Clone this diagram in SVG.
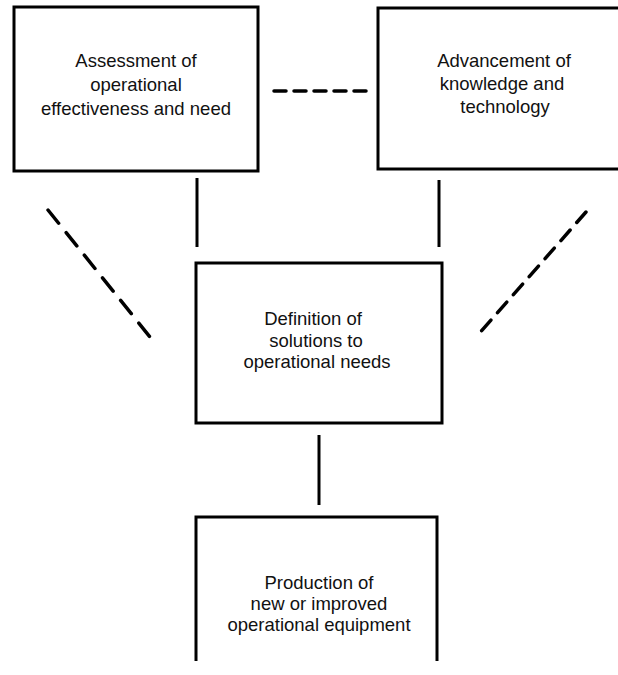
<svg xmlns="http://www.w3.org/2000/svg" width="618" height="675" viewBox="0 0 618 675">
<style>
.box{fill:#fff;stroke:#000;stroke-width:3}
.t{font-family:"Liberation Sans",Arial,sans-serif;font-size:18.5px;fill:#111;text-anchor:middle}
.solid{stroke:#000;stroke-width:3;fill:none}
.dash{stroke:#000;stroke-width:3.5;fill:none;stroke-linecap:round}
</style>
<rect width="618" height="675" fill="#fff"/>
<g id="connectors">
<line class="dash" x1="274" y1="91" x2="366" y2="91" stroke-dasharray="12 8"/>
<line class="solid" x1="197" y1="178" x2="197" y2="247"/>
<line class="solid" x1="439" y1="180" x2="439" y2="247"/>
<line class="solid" x1="319" y1="435" x2="319" y2="505"/>
<line class="dash" x1="48" y1="210" x2="150" y2="337" stroke-dasharray="17 12"/>
<line class="dash" x1="586" y1="212" x2="477" y2="336" stroke-dasharray="14 10"/>
</g>
<g id="assessment">
<rect class="box" x="14" y="7" width="244" height="164"/>
<text class="t" x="136" y="67">Assessment of</text>
<text class="t" x="136" y="91">operational</text>
<text class="t" x="136" y="115">effectiveness and need</text>
</g>
<g id="advancement">
<rect class="box" x="378" y="8" width="250" height="161"/>
<text class="t" x="504" y="67">Advancement of</text>
<text class="t" x="502" y="90">knowledge and</text>
<text class="t" x="505" y="113">technology</text>
</g>
<g id="definition">
<rect class="box" x="196" y="263" width="246" height="160"/>
<text class="t" x="313" y="325">Definition of</text>
<text class="t" x="316" y="347">solutions to</text>
<text class="t" x="317" y="368">operational needs</text>
</g>
<g id="production">
<path class="solid" d="M196,661 V517 H437 V661"/>
<text class="t" x="319" y="589">Production of</text>
<text class="t" x="319" y="610">new or improved</text>
<text class="t" x="319" y="631">operational equipment</text>
</g>
</svg>
